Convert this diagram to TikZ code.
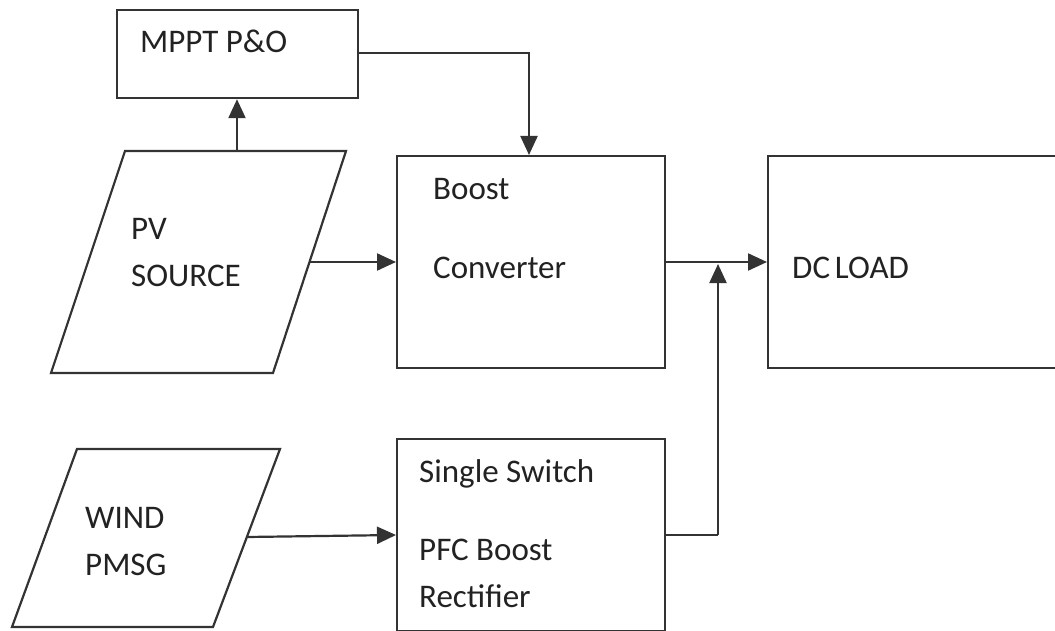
\documentclass[tikz,border=0pt]{standalone}
\usepackage{fontspec}
\setmainfont{Carlito}
\usetikzlibrary{arrows.meta,calc}
\definecolor{linegray}{HTML}{333333}
\definecolor{textgray}{HTML}{222222}
\tikzset{
  blockbox/.style={draw=linegray, line width=2.2pt, fill=white, anchor=north west, inner sep=0pt},
  blocktext/.style={anchor=base west, inner sep=0pt, text=textgray, font=\fontsize{33}{36}\selectfont},
  arr/.style={draw=linegray, line width=2.2pt, -{Triangle[length=19pt,width=17pt]}},
  wire/.style={draw=linegray, line width=2.2pt},
  slanted/.style={draw=linegray, line width=2.2pt, line join=miter}
}
\begin{document}
\begin{tikzpicture}[x=1pt,y=-1pt]
  \clip (0,0) rectangle (1055,631);
  \fill[white] (0,0) rectangle (1055,631);

  % rectangular blocks
  \node[blockbox, minimum width=241pt, minimum height=88pt] (mppt) at (116,9) {};
  \node[blockbox, minimum width=268pt, minimum height=212pt] (boost) at (396,155) {};
  \node[blockbox, minimum width=320pt, minimum height=212pt] (load) at (767,155) {};
  \node[blockbox, minimum width=268pt, minimum height=192pt] (rect) at (396,438) {};

  % source parallelograms
  \draw[slanted] (125,151) -- (346,151) -- (273,373) -- (51,373) -- cycle;
  \draw[slanted] (77,449) -- (280,449) -- (213,627) -- (12,627) -- cycle;
  \coordinate (pvtop) at (237,151);
  \coordinate (pvright) at (309.5,262);
  \coordinate (windright) at (247,537);

  % labels
  \node[blocktext] (tmppt) at (140,53) {MPPT P\&O};
  \node[blocktext] (tpv1) at (131,240) {PV};
  \node[blocktext] (tpv2) at (131,287) {SOURCE};
  \node[blocktext] (tboost1) at (433,200) {Boost};
  \node[blocktext] (tboost2) at (433,279) {Converter};
  \node[blocktext] (tload) at (792,279) {DC\hspace{-0.08em} LOAD};
  \node[blocktext] (twind1) at (85,528) {WIND};
  \node[blocktext] (twind2) at (85,575) {PMSG};
  \node[blocktext] (trect1) at (419,482) {Single Switch};
  \node[blocktext] (trect2) at (419,560) {PFC Boost};
  \node[blocktext] (trect3) at (419,607) {Rectifier};

  % connectors
  \coordinate (mpptout) at (mppt.north east |- 0,53);
  \coordinate (boostin) at (529,155);
  \coordinate (boostout) at (boost.north east |- 0,262);
  \coordinate (rectout) at (rect.north east |- 0,535);
  \coordinate (joint) at (718,535);
  \coordinate (jointtip) at (718,264);

  \draw[arr] (pvtop) -- (pvtop |- mppt.south);
  \draw[arr] (mpptout) -| (boostin);
  \draw[arr] (pvright) -- (pvright -| boost.west);
  \draw[arr] (boostout) -- (boostout -| load.west);
  \draw[arr] (windright) -- (rect.west |- 0,535);
  \draw[wire] (rectout) -- (joint);
  \draw[arr] (joint) -- (jointtip);
\end{tikzpicture}
\end{document}
